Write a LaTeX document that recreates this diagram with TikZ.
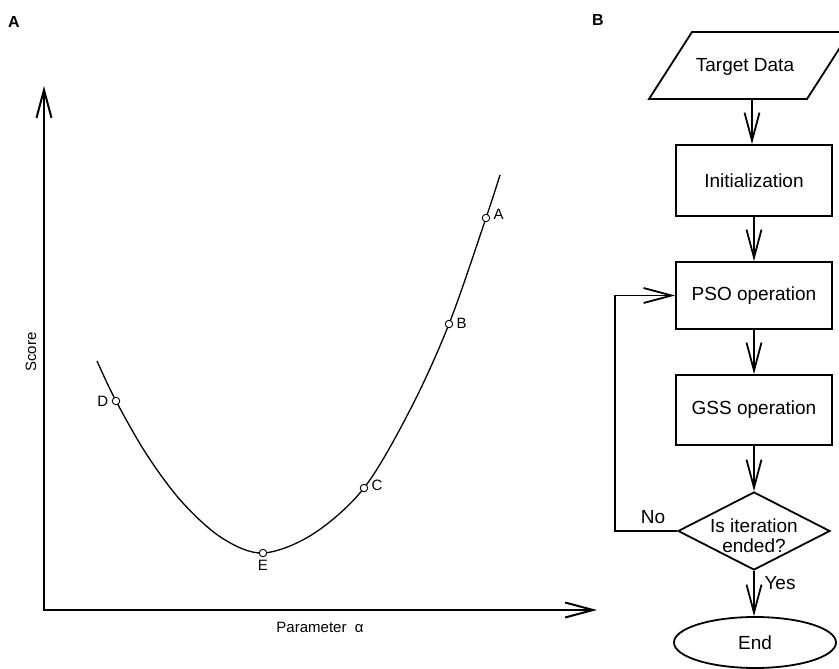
\documentclass[tikz,border=0pt]{standalone}
\usepackage{fontspec}
\setmainfont{Liberation Sans}
\usetikzlibrary{arrows.meta,shapes.geometric}
\begin{document}
\begin{tikzpicture}[x=1pt,y=-1pt,
  ftxt/.style={font=\fontsize{19}{23}\selectfont},
  atxt/.style={font=\fontsize{15}{18}\selectfont},
  ptxt/.style={font=\fontsize{16}{19}\selectfont\bfseries},
  box/.style={draw,line width=1.8pt,minimum width=156pt,inner sep=0pt,ftxt},
  flow/.style={line width=1.8pt},
  barb/.style={-{Straight Barb[length=28pt,width=15pt]}},
  axis/.style={line width=2pt},
  pt/.style={circle,draw,fill=white,line width=0.9pt,minimum size=7.5pt,inner sep=0pt}]
\useasboundingbox (0,0) rectangle (839,669);
\clip (0,0) rectangle (839,669);
% ---------- panel A ----------
\node[ptxt] (la) at (14,22) {A};
\coordinate (ytip) at (44,86);
\coordinate (orig) at (44,610);
\coordinate (xtip) at (597,610);
\draw[axis,{Straight Barb[length=28pt,width=15pt]}-{Straight Barb[length=28pt,width=15pt]}] (ytip) -- (orig) -- (xtip);
\node[atxt,rotate=90] (score) at (31,352) {Score};
\node[atxt] (param) at (320,627) {Parameter\ \ α};
\draw[line width=1.3pt] plot[smooth,tension=0.55] coordinates {(97,361) (116,401) (147,455) (182,502) (222,538) (263,553) (313,534) (364,488) (410,410) (449,324) (486,218) (500,175)};
\node[pt] (pD) at (116,401) {};
\node[pt] (pE) at (263,553) {};
\node[pt] (pC) at (364,488) {};
\node[pt] (pB) at (449,324) {};
\node[pt] (pA) at (486,218) {};
\node[atxt,anchor=east] at (pD.west) {D};
\node[atxt,anchor=north] at ([yshift=1pt]pE.south) {E};
\node[atxt,anchor=west] at ([yshift=3pt]pC.east) {C};
\node[atxt,anchor=west] at ([yshift=1pt]pB.east) {B};
\node[atxt,anchor=west] at ([yshift=4pt]pA.east) {A};
% ---------- panel B ----------
\node[ptxt] (lb) at (598,20) {B};
\coordinate (dBL) at (649,99);
\coordinate (dBR) at (807,99);
\coordinate (dTR) at (850,32);
\coordinate (dTL) at (692,32);
\draw[flow,line join=miter] (dBL) -- (dBR) -- (dTR) -- (dTL) -- cycle;
\node[ftxt] (data) at (745,67) {Target Data};
\coordinate (datab) at (752,99);
\node[box,minimum height=71pt] (init) at (754,180.5) {Initialization};
\node[box,minimum height=67pt] (pso) at (754,295.5) {PSO operation};
\node[box,minimum height=70pt] (gss) at (754,410) {GSS operation};
\node[diamond,draw,line width=1.8pt,minimum width=152pt,minimum height=78pt,inner sep=0pt,ftxt] (dec) at (754,531)
  {\makebox[0pt]{\smash{\raisebox{-11.5pt}{\begin{tabular}{@{}c@{}}Is iteration\\[-3pt]ended?\end{tabular}}}}};
\node[ellipse,draw,line width=1.8pt,minimum width=162pt,minimum height=51pt,inner sep=0pt,ftxt] (end) at (755,642.5) {End};
\draw[flow,barb] (datab) -- (datab |- init.north);
\draw[flow,barb] (init.south) -- (pso.north);
\draw[flow,barb] (pso.south) -- (gss.north);
\draw[flow,barb] (gss.south) -- (dec.north);
\draw[flow,barb] (dec.south) -- (dec.south |- end.north);
\draw[flow,barb] (dec.west) -- ++(-62,0) |- (pso.west);
\node[ftxt] (no) at (653,517) {No};
\node[ftxt] (yes) at (780,583) {Yes};
\end{tikzpicture}
\end{document}
